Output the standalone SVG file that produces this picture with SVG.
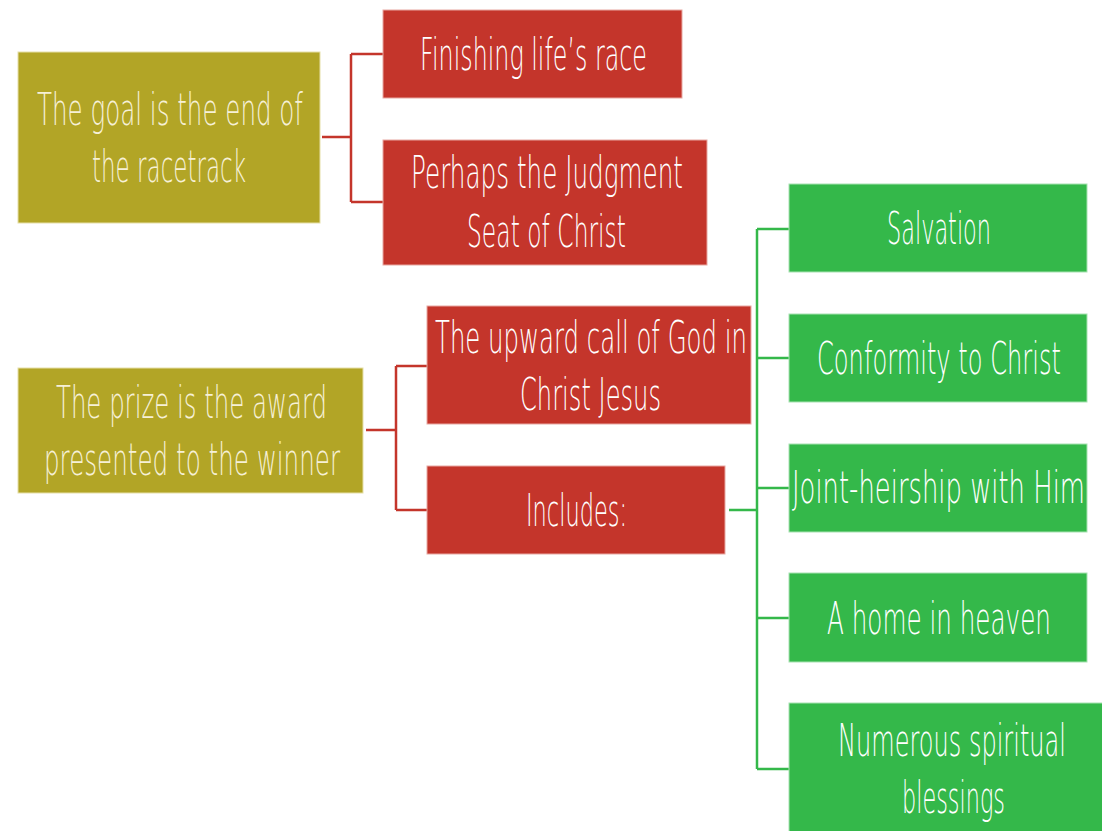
<svg xmlns="http://www.w3.org/2000/svg" width="1102" height="831" viewBox="0 0 1102 831">
<style>
.olive{fill:#B2A526;stroke:#E6DFA8;stroke-width:1}
.red{fill:#C4352B;stroke:#E8A8A2;stroke-width:1}
.green{fill:#34B84A;stroke:#A8E2B2;stroke-width:1}
text{font-family:"DejaVu Sans","Liberation Sans",sans-serif;font-weight:200;font-size:44px;fill:#FFFFFF}
.olive-t{fill:#F6F0D6}
.rc{fill:none;stroke:#C4352B;stroke-width:2.5}
.gc{fill:none;stroke:#34B84A;stroke-width:2.5}
</style>
<rect width="1102" height="831" fill="#FFFFFF"/>
<g id="connectors">
<path class="rc" d="M322,137 H351 M351,54 V202 M351,54 H383 M351,202 H383"/>
<path class="rc" d="M366,430 H396 M396,366 V510 M396,366 H427 M396,510 H427"/>
<path class="gc" d="M729,510 H757 M757,229 V769 M757,229 H789 M757,358 H789 M757,488 H789 M757,618 H789 M757,769 H789"/>
</g>
<g id="goal">
<rect class="olive" x="18" y="52" width="302" height="171"/>
<text class="olive-t" x="37" y="125" textLength="266" lengthAdjust="spacingAndGlyphs">The goal is the end of</text>
<text class="olive-t" x="92" y="182" textLength="154" lengthAdjust="spacingAndGlyphs">the racetrack</text>
</g>
<g id="finishing">
<rect class="red" x="383" y="10" width="299" height="88"/>
<text x="420" y="70" textLength="227" lengthAdjust="spacingAndGlyphs">Finishing life’s race</text>
</g>
<g id="judgment">
<rect class="red" x="383" y="140" width="324" height="125"/>
<text x="411" y="188" textLength="272" lengthAdjust="spacingAndGlyphs">Perhaps the Judgment</text>
<text x="467" y="247" textLength="159" lengthAdjust="spacingAndGlyphs">Seat of Christ</text>
</g>
<g id="prize">
<rect class="olive" x="18" y="368" width="345" height="125"/>
<text class="olive-t" x="56" y="418" textLength="271" lengthAdjust="spacingAndGlyphs">The prize is the award</text>
<text class="olive-t" x="44" y="475" textLength="296" lengthAdjust="spacingAndGlyphs">presented to the winner</text>
</g>
<g id="upward">
<rect class="red" x="427" y="306" width="324" height="118"/>
<text x="435" y="353" textLength="312" lengthAdjust="spacingAndGlyphs">The upward call of God in</text>
<text x="520" y="410" textLength="141" lengthAdjust="spacingAndGlyphs">Christ Jesus</text>
</g>
<g id="includes">
<rect class="red" x="427" y="466" width="298" height="88"/>
<text x="526" y="526" textLength="101" lengthAdjust="spacingAndGlyphs">Includes:</text>
</g>
<g id="salvation">
<rect class="green" x="789" y="184" width="298" height="88"/>
<text x="887" y="244" textLength="104" lengthAdjust="spacingAndGlyphs">Salvation</text>
</g>
<g id="conformity">
<rect class="green" x="789" y="314" width="298" height="88"/>
<text x="817" y="374" textLength="244" lengthAdjust="spacingAndGlyphs">Conformity to Christ</text>
</g>
<g id="joint">
<rect class="green" x="789" y="444" width="298" height="88"/>
<text x="792" y="503" textLength="293" lengthAdjust="spacingAndGlyphs">Joint-heirship with Him</text>
</g>
<g id="home">
<rect class="green" x="789" y="573" width="298" height="89"/>
<text x="827" y="634" textLength="224" lengthAdjust="spacingAndGlyphs">A home in heaven</text>
</g>
<g id="blessings">
<rect class="green" x="789" y="703" width="320" height="132"/>
<text x="838" y="756" textLength="228" lengthAdjust="spacingAndGlyphs">Numerous spiritual</text>
<text x="902" y="813" textLength="103" lengthAdjust="spacingAndGlyphs">blessings</text>
</g>
</svg>
